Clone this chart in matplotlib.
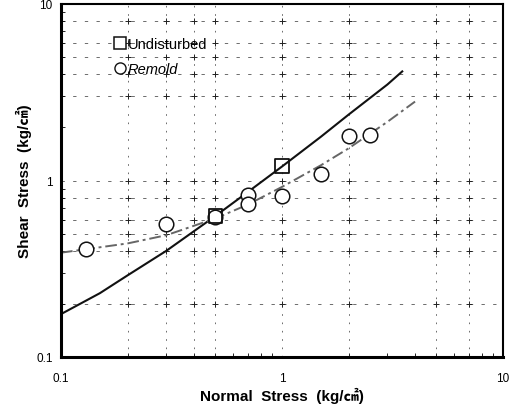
import numpy as np
import matplotlib.pyplot as plt
from matplotlib.lines import Line2D

# test results
undist_x = [0.5, 1.0]
undist_y = [0.63, 1.21]
remold_x = [0.13, 0.3, 0.5, 0.7, 0.7, 1.0, 1.5, 2.0, 2.5]
remold_y = [0.41, 0.57, 0.62, 0.83, 0.74, 0.82, 1.09, 1.78, 1.80]

# failure envelopes
undist_fit_x = [0.1, 0.15, 0.2, 0.3, 0.5, 0.7, 1.0, 1.5, 2.0, 3.0, 3.5]
undist_fit_y = [0.175, 0.23, 0.29, 0.40, 0.63, 0.86, 1.20, 1.77, 2.36, 3.50, 4.15]
remold_fit_x = [0.1, 0.2, 0.3, 0.5, 0.7, 1.0, 1.5, 2.0, 3.0, 4.0]
remold_fit_y = [0.39, 0.44, 0.49, 0.61, 0.73, 0.92, 1.22, 1.52, 2.15, 2.80]

# grid positions
grid_x = [0.2, 0.3, 0.4, 0.5, 1, 2, 5, 7]
grid_y = [0.2, 0.4, 0.5, 0.6, 0.8, 1, 3, 4, 5, 6, 8]

fonts = ['Liberation Sans', 'Noto Sans CJK JP', 'DejaVu Sans']
plt.rcParams['font.family'] = fonts

fig = plt.figure(figsize=(5.13, 4.14), dpi=100)
ax = fig.add_axes([61 / 513, 1 - 358 / 414, 442 / 513, 353 / 414])
ax.set_xscale('log')
ax.set_yscale('log')
ax.set_xlim(0.1, 10)
ax.set_ylim(0.1, 10)

for gx in grid_x:
    ax.axvline(gx, color='#555555', lw=0.6, ls=(0, (2, 8)), zorder=1)
for gy in grid_y:
    ax.axhline(gy, color='#555555', lw=0.6, ls=(0, (4, 10)), zorder=1)
gxx, gyy = np.meshgrid(grid_x, grid_y)
ax.scatter(gxx.ravel(), gyy.ravel(), marker='+', s=22, color='#222222',
           linewidths=0.7, zorder=1)

ax.plot(undist_fit_x, undist_fit_y, color='#111111', lw=1.5, zorder=2)
ax.plot(remold_fit_x, remold_fit_y, color='#666666', lw=1.4,
        ls=(0, (6, 2, 1.5, 2)), zorder=2)

ax.scatter(remold_x, remold_y, marker='o', s=110, facecolors='white',
           edgecolors='#111111', linewidths=1.1, zorder=3)
ax.scatter(undist_x, undist_y, marker='s', s=100, facecolors='none',
           edgecolors='#111111', linewidths=1.3, zorder=4)

handles = [Line2D([], [], ls='none', marker='s', ms=9, mfc='white',
                  mec='#111111', mew=1.1),
           Line2D([], [], ls='none', marker='o', ms=8, mfc='white',
                  mec='#111111', mew=1.0)]
leg = ax.legend(handles, ['Undisturbed', 'Remold'], loc='upper left',
                bbox_to_anchor=(0.103, 0.922), frameon=False,
                handletextpad=0.05, handlelength=1.0, labelspacing=0.75,
                borderaxespad=0, prop={'family': fonts, 'size': 10.5})
leg.get_texts()[1].set_fontstyle('italic')

ax.set_xticks([0.1, 1, 10])
ax.set_xticklabels(['0.1', '1', '10'])
ax.set_yticks([0.1, 1, 10])
ax.set_yticklabels(['0.1', '1', '10'])
ax.tick_params(which='major', direction='in', length=0, labelsize=8.5)
ax.tick_params(axis='x', which='major', pad=11)
ax.tick_params(axis='y', which='major', pad=6)
ax.tick_params(which='minor', direction='in', length=3, width=0.6,
               labelleft=False, labelbottom=False)

for side in ['left', 'bottom']:
    ax.spines[side].set_linewidth(2.2)
for side in ['right', 'top']:
    ax.spines[side].set_linewidth(1.5)

ax.set_xlabel('Normal  Stress  (kg/㎠)', fontsize=11, fontweight='bold',
              labelpad=2)
ax.set_ylabel('Shear  Stress  (kg/㎠)', fontsize=11, fontweight='bold',
              labelpad=3)

fig.savefig('out.png', dpi=100)
